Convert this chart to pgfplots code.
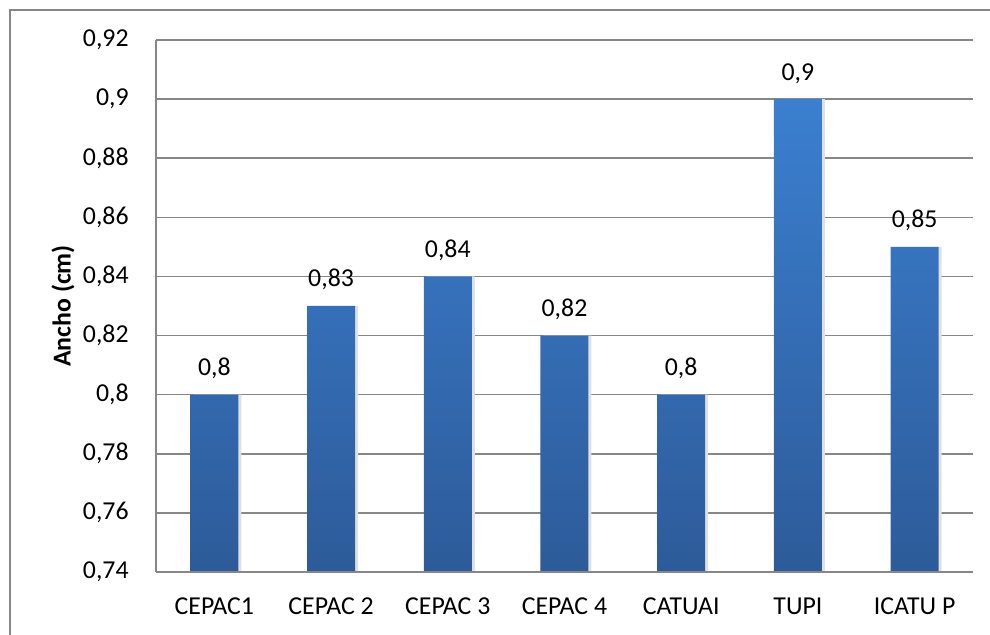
\documentclass[border=0pt]{standalone}
\usepackage{pgfplots}
\pgfplotsset{compat=1.18}
\usepackage{fontspec}
\setmainfont{Carlito}
\definecolor{barTop}{HTML}{3B7FD0}
\definecolor{barBot}{HTML}{2D5B99}
\definecolor{gridc}{HTML}{878787}
\begin{document}
\begin{tikzpicture}[x=0.5pt,y=0.5pt]
\useasboundingbox (-156,-63) rectangle (834,572);
\draw[gridc, line width=0.75pt] (-146,-70) -- (-146,562) -- (840,562);
\begin{axis}[
  at={(0pt,0pt)}, anchor=south west,
  scale only axis, width=408.5pt, height=266pt,
  ybar, bar width=24pt,
  xmin=-0.5, xmax=6.5, ymin=0.74, ymax=0.92,
  xtick={0,1,2,3,4,5,6},
  xticklabels={CEPAC1,CEPAC 2,CEPAC 3,CEPAC 4,CATUAI,TUPI,ICATU P},
  ytick={0.74,0.76,0.78,0.80,0.82,0.84,0.86,0.88,0.90,0.92},
  axis x line*=bottom, axis y line*=left,
  axis line style={gridc, line width=0.75pt, -},
  x axis line style={draw=none},
  ymajorgrids, major grid style={gridc, line width=0.75pt},
  major tick length=0pt,
  tick label style={font=\fontsize{12.9}{15}\selectfont},
  xticklabel style={anchor=center, inner sep=0pt, yshift=-17pt},
  yticklabel style={anchor=east, inner sep=0pt, xshift=-13.5pt},
  /pgf/number format/.cd, use comma, assume math mode=true, 1000 sep={},
  /pgfplots/.cd,
  ylabel={\textbf{Ancho (cm)}},
  every axis y label/.style={at={(axis description cs:0,0.5)}, xshift=-46.5pt, rotate=90, anchor=center, font=\fontsize{12.9}{15}\selectfont},
  clip=true,
  axis on top=false,
]
\addplot[bar shift=1.5pt, fill=black!12, draw=none, forget plot]
  coordinates {(0,0.8) (1,0.83) (2,0.84) (3,0.82) (4,0.8) (5,0.9) (6,0.85)};
\addplot[bar shift=0pt, draw=none, top color=barTop, bottom color=barBot,
  nodes near coords,
  every node near coord/.append style={anchor=base, inner sep=0pt, yshift=9.5pt, font=\fontsize{12.9}{15}\selectfont, text=black}]
  coordinates {(0,0.8) (1,0.83) (2,0.84) (3,0.82) (4,0.8) (5,0.9) (6,0.85)};
\draw[gridc, line width=0.75pt] (rel axis cs:0,0) -- (rel axis cs:1,0);
\end{axis}
\end{tikzpicture}
\end{document}
